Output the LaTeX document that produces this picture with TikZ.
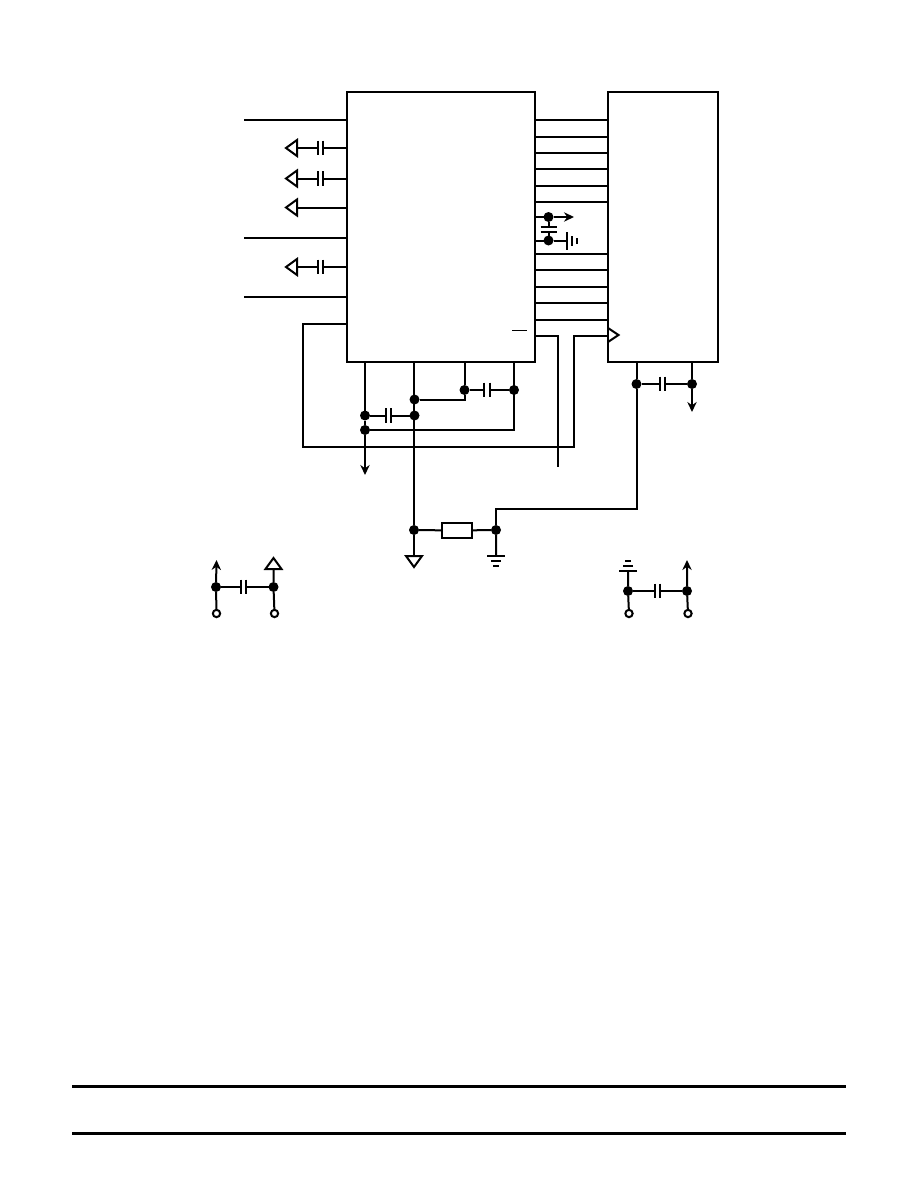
\documentclass[tikz,border=0pt]{standalone}
\usetikzlibrary{arrows.meta}
\tikzset{
	ic/.style={draw, rectangle, inner sep=0pt, outer sep=0pt},
	jdot/.style={circle, fill=black, draw=none, inner sep=0pt, outer sep=0pt, minimum size=7.5pt},
	term/.style={circle, draw, fill=white, inner sep=0pt, outer sep=0pt, minimum size=5.5pt},
	res/.style={draw, rectangle, inner sep=0pt, outer sep=0pt, minimum width=22.5pt, minimum height=11.5pt},
	capH/.style={rectangle, inner sep=0pt, outer sep=0pt, minimum width=4pt, minimum height=11pt,
		append after command={
			(\tikzlastnode.north west) edge (\tikzlastnode.south west)
			(\tikzlastnode.north east) edge (\tikzlastnode.south east)}},
	capV/.style={rectangle, inner sep=0pt, outer sep=0pt, minimum width=12pt, minimum height=4pt,
		append after command={
			(\tikzlastnode.north west) edge (\tikzlastnode.north east)
			(\tikzlastnode.south west) edge (\tikzlastnode.south east)}},
	tipsig/.style={-{Stealth[length=7.5pt,width=7pt]}},
	opentri/.pic={\draw[miter limit=3] (0,-8) -- (-11,0) -- (0,8) -- cycle;},
	gnd/.pic={
		\draw (0,-9) -- (0,9);
		\draw (5,-5) -- (5,5);
		\draw (10,-3) -- (10,3);
	}
}
\begin{document}
\begin{tikzpicture}[x=0.75pt,y=0.75pt,yscale=-1,xscale=1,line width=1.5pt]
\useasboundingbox (0,0) rectangle (918,1188);

\node[ic, minimum width=141pt, minimum height=202.5pt] (U1) at (441,227) {};
\node[ic, minimum width=82.5pt, minimum height=202.5pt] (U2) at (663,227) {};

%left pins of U1
\foreach \ypin in {120,238,297}
	\draw (U1.west |- 0,\ypin) -- (244,\ypin);
\foreach \ypin/\nm in {148/a,178.5/b,267/c}{
	\node[capH] (cap\nm) at (320.5,\ypin) {};
	\coordinate (tri\nm) at (297,\ypin);
	\pic at (tri\nm) {opentri};
	\draw (U1.west |- tri\nm) -- (cap\nm) -- (tri\nm);
}
\coordinate (trid) at (297,207.5);
\pic at (trid) {opentri};
\draw (U1.west |- trid) -- (trid);

%bus between U1 and U2
\foreach \ybus in {120,137,153,169,186,202,254,270,287,303,320}
	\draw (U1.east |- 0,\ybus) -- (U2.west |- 0,\ybus);

\node[jdot] (p1) at (548.5,217) {};
\node[jdot] (p2) at (548.5,240.5) {};
\node[capV] (capp) at (548.5,229.2) {};
\coordinate (ptip) at (574,217);
\coordinate (pgnd) at (566.5,240.5);
\draw[tipsig] (U1.east |- p1) -- (p1) -- (ptip);
\draw (p1) -- (capp) -- (p2);
\draw (U1.east |- p2) -- (p2) -- (pgnd);
\pic at (pgnd) {gnd};

\draw[line width=0.75pt] (512,330) -- (527,330);
\coordinate (stubend) at (558,467);
\draw (U1.east |- 0,336) -- (558,336) -- (stubend);

%clock loop
\coordinate (clk) at (U2.west |- 0,335.5);
\draw (U1.west |- 0,324) -- (303,324) -- (303,447) -- (574,447) -- (574,335.5) -- (clk);
\draw[line join=miter] (608,328) -- (618.5,335) -- (608,342);

%under U1
\node[jdot] (n1) at (365,415.5) {};
\node[jdot] (n2) at (365,430) {};
\node[jdot] (n3) at (414.5,399.5) {};
\node[jdot] (n4) at (414.5,415.5) {};
\node[jdot] (n5) at (464.5,390) {};
\node[jdot] (n6) at (514,390) {};
\node[jdot] (n7) at (414,530) {};
\node[jdot] (n8) at (496,530) {};
\node[capH] (capn1) at (388.5,415.5) {};
\node[capH] (capn2) at (487,390) {};
\node[res] (R1) at (457,530.5) {};
\coordinate (n2tip) at (365,475);
\coordinate (agnd) at (414,556);
\coordinate (dgnd) at (496,556);
\draw[tipsig] (U1.south -| n2) -- (n1) -- (n2) -- (n2tip);
\draw (U1.south -| n7) -- (n7) -- (agnd);
\draw (n1) -- (capn1) -- (n4);
\draw (n3) -| (n5);
\draw (U1.south -| n5) -- (n5) -- (capn2) -- (n6);
\draw (U1.south -| n6) |- (n2);
\draw (n7) -- (R1) -- (n8) -- (dgnd);
\pic[rotate=90] at (agnd) {opentri};
\pic[rotate=-90] at (dgnd) {gnd};

%under U2
\node[jdot] (m1) at (636.5,384) {};
\node[jdot] (m2) at (692,384) {};
\node[capH] (capm) at (662.5,384) {};
\coordinate (m2tip) at (692,412);
\draw (U2.south -| m1) -- (m1) -- (636.5,509) -- (496,509) -- (n8);
\draw[tipsig] (U2.south -| m2) -- (m2) -- (m2tip);
\draw (m1) -- (capm) -- (m2);

%decoupling, left
\node[jdot] (a1) at (216,587) {};
\node[jdot] (a2) at (273.5,587) {};
\node[term] (a3) at (216.5,613.5) {};
\node[term] (a4) at (274.5,613.5) {};
\node[capH] (capa) at (243.5,587) {};
\coordinate (a1tip) at (216.5,560);
\coordinate (a2tri) at (273.5,569);
\draw[tipsig] (a3) -- (a1) -- (a1tip);
\draw (a4) -- (a2) -- (a2tri);
\draw (a1) -- (capa) -- (a2);
\pic[rotate=-90] at (a2tri) {opentri};

%decoupling, right
\node[jdot] (b1) at (628,591) {};
\node[jdot] (b2) at (687,591) {};
\node[term] (b3) at (629,613.5) {};
\node[term] (b4) at (688,613.5) {};
\node[capH] (capb) at (657.5,591) {};
\coordinate (b1gnd) at (628,571);
\coordinate (b2tip) at (687,560);
\draw (b3) -- (b1) -- (b1gnd);
\draw[tipsig] (b4) -- (b2) -- (b2tip);
\draw (b1) -- (capb) -- (b2);
\pic[rotate=90] at (b1gnd) {gnd};

%page rules
\coordinate (ruleAl) at (72,1086.6);
\coordinate (ruleAr) at (846,1086.6);
\coordinate (ruleBl) at (72,1133.5);
\coordinate (ruleBr) at (846,1133.5);
\draw[line width=2.5pt] (ruleAl) -- (ruleAr);
\draw[line width=2.5pt] (ruleBl) -- (ruleBr);
\end{tikzpicture}
\end{document}
